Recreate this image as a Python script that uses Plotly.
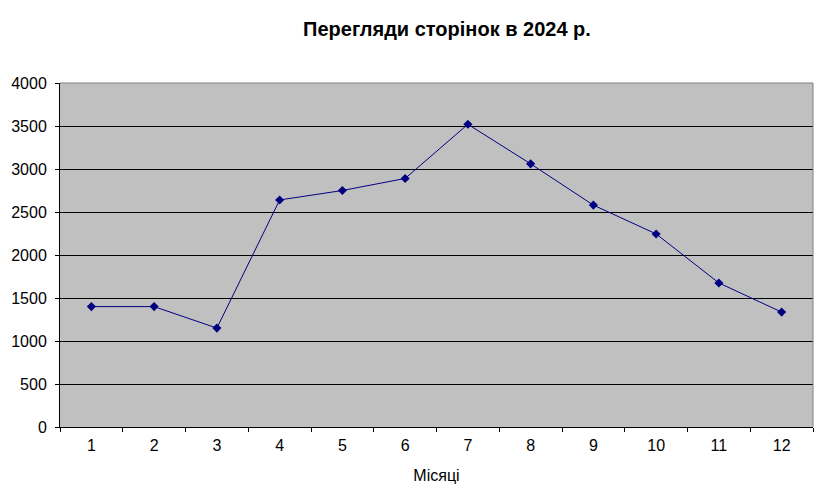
import plotly.graph_objects as go

# Monthly page views, 2024
months = ['1', '2', '3', '4', '5', '6', '7', '8', '9', '10', '11', '12']
views = [1400, 1400, 1150, 2640, 2750, 2890, 3520, 3060, 2580, 2245, 1675, 1336]

navy = '#000080'
font = 'Liberation Sans, Arial, sans-serif'

fig = go.Figure()
fig.add_trace(go.Scatter(
    x=months, y=views,
    mode='lines+markers',
    line=dict(color=navy, width=1),
    marker=dict(symbol='diamond', size=7, color=navy),
    showlegend=False,
    hoverinfo='x+y'
))

# the page body adds an 8px offset, so the figure is 8px smaller than the window
fig.update_layout(
    width=814, height=495,
    paper_bgcolor='white',
    plot_bgcolor='#C0C0C0',
    margin=dict(l=52, r=9, t=75, b=76),
    font=dict(family=font, size=16, color='black'),
    title=dict(
        text='<b>Перегляди сторінок в 2024 р.</b>',
        x=0.5393, xanchor='center',
        y=0.9576, yanchor='middle',
        font=dict(family=font, size=20, color='black')
    ),
)

fig.update_xaxes(
    type='category',
    range=[-0.5, len(months) - 0.5],
    tickson='boundaries',
    ticks='outside', ticklen=4, tickcolor='black',
    ticklabelstandoff=4,
    showline=True, linecolor='black', linewidth=1,
    showgrid=False,
    automargin=False,
    tickfont=dict(size=16),
    title=dict(text='Місяці', font=dict(size=16), standoff=16),
)

fig.update_yaxes(
    range=[0, 4000], dtick=500,
    ticks='outside', ticklen=4, tickcolor='black',
    ticklabelstandoff=5,
    showline=True, linecolor='black', linewidth=1,
    showgrid=True, gridcolor='black', gridwidth=1,
    zeroline=False,
    automargin=False,
    tickfont=dict(size=16),
)

# grey frame on top and right side of plot area
fig.add_shape(type='line', xref='paper', yref='paper', x0=0, x1=1, y0=1, y1=1,
              line=dict(color='#808080', width=1), layer='above')
fig.add_shape(type='line', xref='paper', yref='paper', x0=1, x1=1, y0=0, y1=1,
              line=dict(color='#808080', width=1), layer='above')

fig.write_html('out.html')
